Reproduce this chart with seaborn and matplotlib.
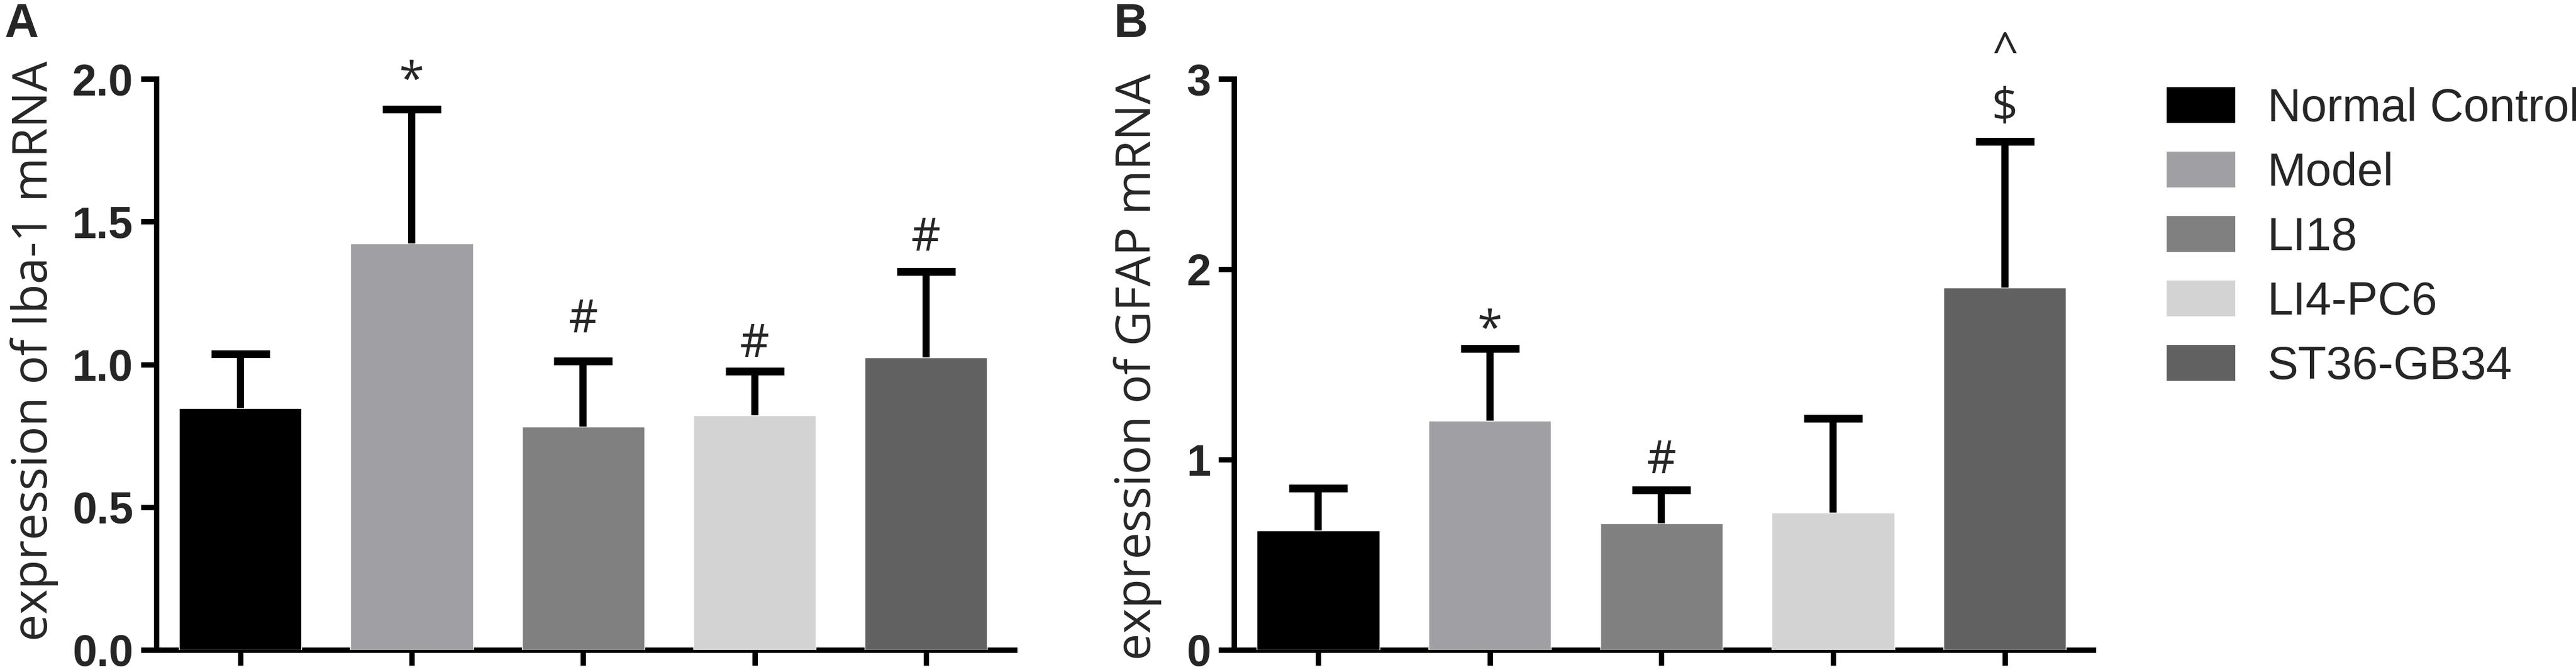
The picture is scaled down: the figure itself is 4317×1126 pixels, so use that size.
import matplotlib
matplotlib.use('Agg')
import matplotlib.pyplot as plt
from matplotlib.patches import Patch
import seaborn as sns

# groups and colours
groups = ['Normal Control', 'Model', 'LI18', 'LI4-PC6', 'ST36-GB34']
colors = ['#000000', '#a0a0a4', '#808080', '#d3d3d3', '#616161']

# panel A: Iba-1 mRNA (mean, upper SD)
iba1_mean = [0.846, 1.424, 0.782, 0.821, 1.024]
iba1_err = [0.19, 0.47, 0.23, 0.155, 0.30]
iba1_ticks = [0.0, 0.5, 1.0, 1.5, 2.0]
iba1_ticklabels = ['0.0', '0.5', '1.0', '1.5', '2.0']
iba1_sig = ['', '*', '#', '#', '#']
iba1_sig_y = [0, 1.944, 1.112, 1.026, 1.398]

# panel B: GFAP mRNA
gfap_mean = [0.628, 1.203, 0.666, 0.720, 1.902]
gfap_err = [0.22, 0.38, 0.175, 0.495, 0.77]
gfap_ticks = [0, 1, 2, 3]
gfap_ticklabels = ['0', '1', '2', '3']
gfap_sig = ['', '*', '#', '', '$']
gfap_sig_y = [0, 1.608, 0.928, 0, 2.78]
gfap_sig2 = ['', '', '', '', '^']
gfap_sig2_y = [0, 0, 0, 0, 3.07]

sns.set_style('ticks')
plt.rcParams['font.family'] = ['Open Sans', 'DejaVu Sans']

W, H = 4317, 1126
fig = plt.figure(figsize=(W / 100, H / 100), dpi=100)
ax_a = fig.add_axes([262 / W, 37 / H, 1438 / W, 957 / H])
ax_b = fig.add_axes([2068 / W, 37 / H, 1440 / W, 957 / H])


def draw_panel(ax, means, errs, ticks, ticklabels, ylabel, label_xy):
    sns.barplot(x=groups, y=means, hue=groups, order=groups, hue_order=groups,
                palette=colors, saturation=1, width=0.714, errorbar=None,
                legend=False, ax=ax, zorder=3)
    # errorbars sit behind the bars so only the upper half shows
    ax.errorbar(range(len(groups)), means, yerr=errs, fmt='none',
                ecolor='black', elinewidth=8.6, capsize=35, capthick=9.4,
                zorder=2)
    ax.set_xlim(-0.49, 4.516)
    ax.set_ylim(ticks[0], ticks[-1])
    ax.set_yticks(ticks)
    ax.set_yticklabels(ticklabels, fontfamily='Liberation Sans',
                       fontweight='bold', fontsize=53)
    ax.set_xticks(range(len(groups)))
    ax.tick_params(axis='both', width=6.5, length=19, color='black')
    ax.tick_params(axis='y', pad=9)
    ax.tick_params(axis='x', labelbottom=False)
    for side in ['top', 'right']:
        ax.spines[side].set_visible(False)
    for side in ['left', 'bottom']:
        ax.spines[side].set_linewidth(6.5)
        ax.spines[side].set_color('black')
    ax.set_xlabel('')
    ax.set_ylabel(ylabel, fontsize=58, fontfamily='Open Sans')
    ax.yaxis.set_label_coords(*label_xy)


def add_marks(ax, marks, ys):
    for i, (m, y) in enumerate(zip(marks, ys)):
        if m:
            ax.text(i, y, m, ha='center', va='baseline', fontsize=55,
                    fontfamily='Open Sans', clip_on=False)


draw_panel(ax_a, iba1_mean, iba1_err, iba1_ticks, iba1_ticklabels,
           'expression of Iba-1 mRNA', (-0.114, 0.524))
add_marks(ax_a, iba1_sig, iba1_sig_y)

draw_panel(ax_b, gfap_mean, gfap_err, gfap_ticks, gfap_ticklabels,
           'expression of GFAP mRNA', (-0.084, 0.496))
add_marks(ax_b, gfap_sig, gfap_sig_y)
add_marks(ax_b, gfap_sig2, gfap_sig2_y)

# panel letters
fig.text(7 / W, 1 - 62 / H, 'A', fontsize=57, fontweight='bold',
         fontfamily='Liberation Sans', ha='left', va='baseline')
fig.text(1867 / W, 1 - 62 / H, 'B', fontsize=57, fontweight='bold',
         fontfamily='Liberation Sans', ha='left', va='baseline')

handles = [Patch(facecolor=c, edgecolor='none', label=g)
           for g, c in zip(groups, colors)]
fig.legend(handles=handles, loc='upper left',
           bbox_to_anchor=(3631 / W, 1 - 146 / H), frameon=False,
           prop={'family': 'Liberation Sans', 'size': 56},
           handlelength=1.48, handleheight=0.81, handletextpad=0.69,
           labelspacing=0.45, borderpad=0, borderaxespad=0)

fig.savefig('out.png', dpi=100)
